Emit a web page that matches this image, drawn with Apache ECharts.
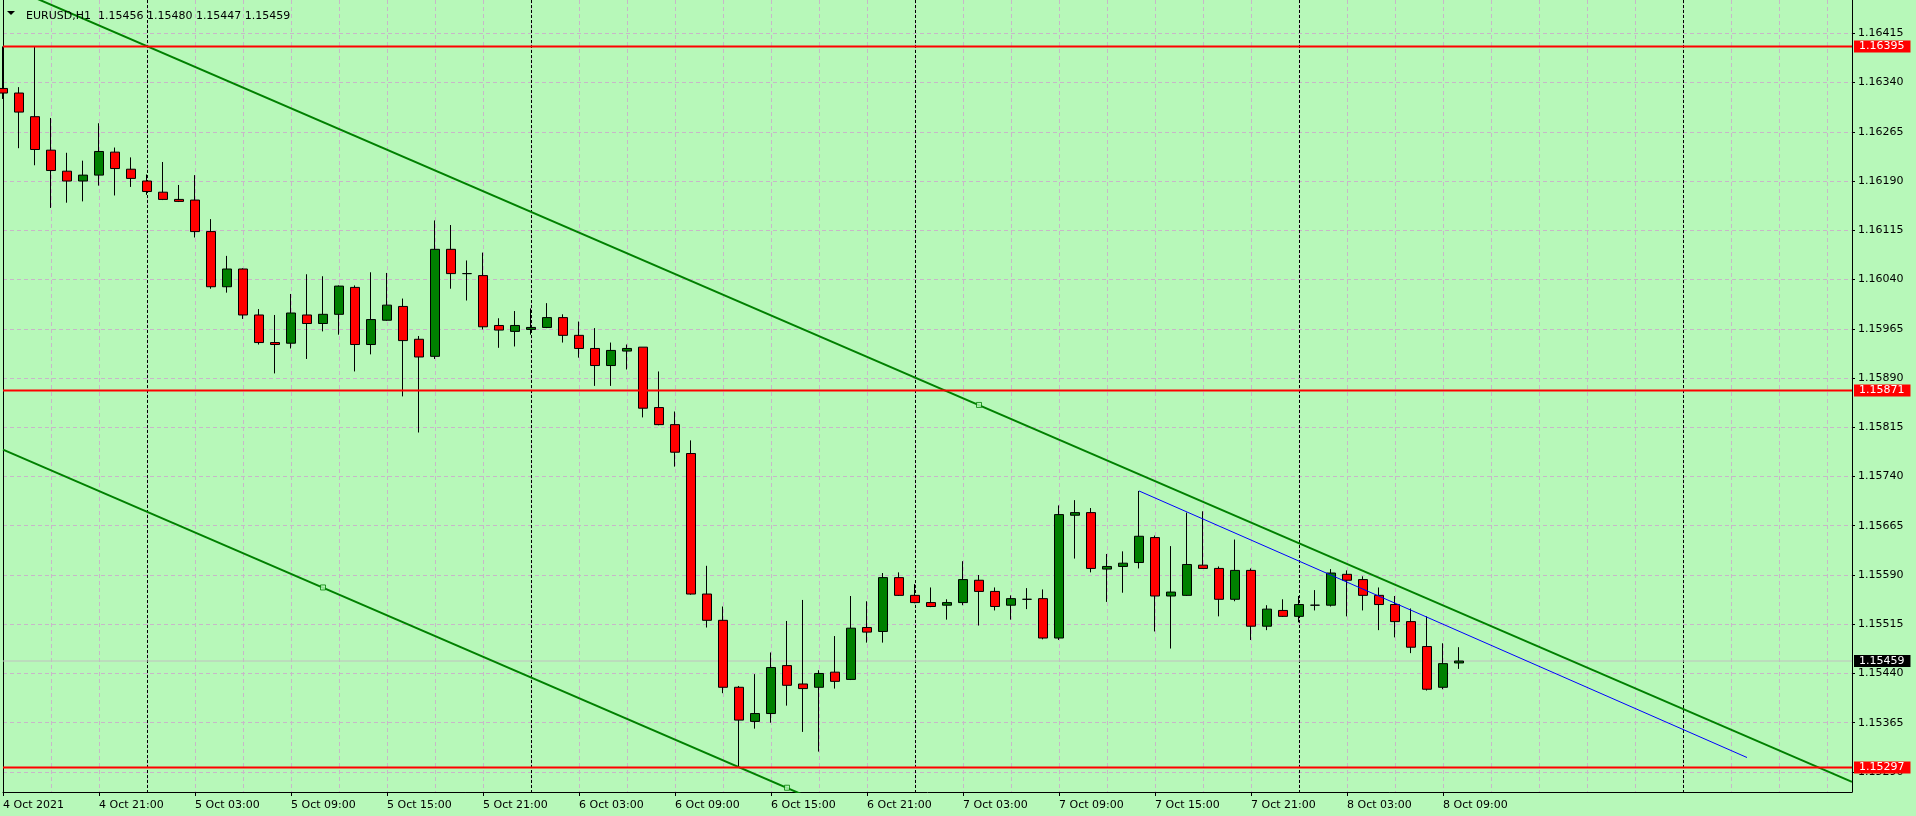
<!DOCTYPE html>
<html>
<head>
<meta charset="utf-8">
<script src="https://cdn.jsdelivr.net/npm/echarts@6/dist/echarts.min.js"></script>
<style>
html,body{margin:0;padding:0;background:#b7f8b9;}
#c{width:1916px;height:816px;}
</style>
</head>
<body>
<div id="c"></div>
<script>
// ---- data ----
const symbolTitle = 'EURUSD,H1  1.15456 1.15480 1.15447 1.15459';
const xTickLabels = ['4 Oct 2021','4 Oct 21:00','5 Oct 03:00','5 Oct 09:00','5 Oct 15:00','5 Oct 21:00',
  '6 Oct 03:00','6 Oct 09:00','6 Oct 15:00','6 Oct 21:00','7 Oct 03:00','7 Oct 09:00','7 Oct 15:00',
  '7 Oct 21:00','8 Oct 03:00','8 Oct 09:00'];
const xTickStep = 6;             // bars between time labels
const gridStep = 3;              // bars between vertical grid lines
const daySeparators = [9, 33, 57, 81, 105];   // bar index of each midnight
const yTickValues = [1.15290,1.15365,1.15440,1.15515,1.15590,1.15665,1.15740,1.15815,
  1.15890,1.15965,1.16040,1.16115,1.16190,1.16265,1.16340,1.16415];

const opens = [1.16331,1.16324,1.16288,1.16237,1.16205,1.16190,1.16199,1.16234,1.16208,1.16190,
  1.16173,1.16162,1.16161,1.16113,1.16029,1.16056,1.15986,1.15944,1.15943,1.15986,
  1.15973,1.15987,1.16028,1.15941,1.15978,1.15999,1.15949,1.15923,1.16086,1.16049,
  1.16046,1.15970,1.15961,1.15964,1.15967,1.15982,1.15955,1.15935,1.15909,1.15931,
  1.15937,1.15845,1.15819,1.15775,1.15561,1.15521,1.15419,1.15367,1.15379,1.15452,
  1.15424,1.15419,1.15442,1.15431,1.15510,1.15504,1.15586,1.15559,1.15548,1.15544,
  1.15548,1.15582,1.15565,1.15544,1.15553,1.15554,1.15494,1.15681,1.15685,1.15599,
  1.15603,1.15609,1.15647,1.15558,1.15559,1.15605,1.15600,1.15553,1.15597,1.15512,
  1.15536,1.15527,1.15544,1.15544,1.15591,1.15583,1.15559,1.15545,1.15519,1.15481,
  1.15419,1.15456];
const highs = [1.16395,1.16333,1.16395,1.16286,1.16233,1.16221,1.16278,1.16241,1.16226,1.16200,
  1.16219,1.16184,1.16199,1.16132,1.16076,1.16057,1.15995,1.15986,1.16018,1.16048,
  1.16045,1.16031,1.16031,1.16051,1.16050,1.16011,1.15954,1.16130,1.16123,1.16069,
  1.16081,1.15981,1.15992,1.15996,1.16004,1.15987,1.15976,1.15966,1.15944,1.15941,
  1.15937,1.15900,1.15839,1.15795,1.15604,1.15542,1.15421,1.15439,1.15472,1.15520,
  1.15552,1.15445,1.15497,1.15558,1.15550,1.15593,1.15594,1.15576,1.15571,1.15553,
  1.15611,1.15590,1.15571,1.15559,1.15570,1.15568,1.15696,1.15704,1.15692,1.15622,
  1.15626,1.15718,1.15650,1.15634,1.15685,1.15687,1.15603,1.15644,1.15600,1.15544,
  1.15553,1.15558,1.15567,1.15599,1.15597,1.15588,1.15571,1.15558,1.15539,1.15527,
  1.15486,1.15480];
const lows = [1.16315,1.16240,1.16214,1.16149,1.16157,1.16159,1.16183,1.16168,1.16181,1.16169,
  1.16161,1.16158,1.16104,1.16026,1.16020,1.15980,1.15941,1.15897,1.15935,1.15919,
  1.15961,1.15956,1.15900,1.15926,1.15977,1.15862,1.15807,1.15919,1.16026,1.16008,
  1.15964,1.15936,1.15938,1.15956,1.15966,1.15944,1.15921,1.15878,1.15878,1.15903,
  1.15830,1.15818,1.15755,1.15560,1.15510,1.15410,1.15297,1.15356,1.15365,1.15391,
  1.15351,1.15321,1.15417,1.15430,1.15487,1.15487,1.15558,1.15547,1.15541,1.15522,
  1.15544,1.15513,1.15536,1.15522,1.15538,1.15492,1.15491,1.15615,1.15594,1.15549,
  1.15563,1.15600,1.15504,1.15478,1.15558,1.15600,1.15527,1.15550,1.15491,1.15506,
  1.15526,1.15518,1.15536,1.15542,1.15527,1.15536,1.15506,1.15495,1.15471,1.15414,
  1.15416,1.15447];
const closes = [1.16324,1.16295,1.16238,1.16206,1.16190,1.16199,1.16235,1.16209,1.16194,1.16174,
  1.16162,1.16159,1.16113,1.16029,1.16056,1.15986,1.15944,1.15941,1.15989,1.15973,
  1.15987,1.16030,1.15941,1.15979,1.16001,1.15947,1.15922,1.16086,1.16049,1.16049,
  1.15968,1.15963,1.15970,1.15967,1.15982,1.15955,1.15935,1.15909,1.15932,1.15935,
  1.15844,1.15819,1.15777,1.15561,1.15521,1.15419,1.15369,1.15379,1.15449,1.15422,
  1.15417,1.15440,1.15428,1.15509,1.15503,1.15586,1.15559,1.15548,1.15542,1.15548,
  1.15583,1.15565,1.15542,1.15554,1.15553,1.15494,1.15682,1.15685,1.15600,1.15603,
  1.15608,1.15649,1.15558,1.15564,1.15606,1.15600,1.15553,1.15597,1.15512,1.15538,
  1.15527,1.15545,1.15544,1.15593,1.15582,1.15559,1.15545,1.15519,1.15480,1.15416,
  1.15455,1.15459];

const levelLines = [1.16395, 1.15871, 1.15297];
const bidPrice = 1.15459;
const channelUpper = [[0, 1.16490], [115.5625, 1.15275]];
const channelLower = [[0, 1.15781], [60, 1.15150]];
const channelAnchors = [[61, 1.15849], [20, 1.15571], [49, 1.15266]];
const blueTrend = [[71, 1.15718], [109, 1.15312]];

// ---- view ----
const X_MAX = 115.5625, Y_MIN = 1.152595, Y_MAX = 1.164657;
const FONT = 'DejaVu Sans';
const BG = '#b7f8b9';
const xTickIdx = xTickLabels.map((_, k) => k * xTickStep);
const gridIdx = [];
for (let v = 0; v <= X_MAX; v += gridStep) gridIdx.push(v);
const bars = opens.map((o, i) => [i, o, closes[i], lows[i], highs[i]]);
const gridDash = {color: '#c8b6c8', width: 1, type: [4, 3]};

function priceLine(name, v, color, width, boxColor, z) {
  return {
    type: 'line', name: name, data: [[0, v], [X_MAX, v]], symbol: 'none', showSymbol: false,
    silent: true, clip: false, z: z,
    lineStyle: {color: color, width: width, type: 'solid'},
    endLabel: {show: true, distance: 2, color: '#fff', backgroundColor: boxColor,
      padding: [1, 6, 0, 5], fontSize: 11, lineHeight: 11, fontFamily: FONT,
      formatter: () => v.toFixed(5)}
  };
}

const chart = echarts.init(document.getElementById('c'), null, {renderer: 'canvas', width: 1916, height: 816});
chart.setOption({
  animation: false,
  backgroundColor: BG,
  textStyle: {fontFamily: FONT},
  title: {text: symbolTitle, left: 21, top: 6,
    textStyle: {fontFamily: FONT, fontSize: 11, fontWeight: 'normal', color: '#000'}},
  graphic: [{type: 'polygon', shape: {points: [[7, 11], [15, 11], [11, 15]]}, style: {fill: '#000'}, silent: true}],
  grid: {left: 3, right: 64, top: 0, bottom: 24, show: false, containLabel: false, outerBoundsMode: 'none'},
  xAxis: [
    {type: 'value', min: 0, max: X_MAX, position: 'bottom',
      axisLine: {show: true, onZero: false, lineStyle: {color: '#000', width: 1}},
      axisTick: {show: true, length: 4, customValues: xTickIdx, lineStyle: {color: '#000'}},
      axisLabel: {show: true, customValues: xTickIdx, margin: 8, align: 'left', color: '#000',
        fontSize: 11, fontFamily: FONT,
        formatter: v => xTickLabels[Math.round(v / xTickStep)] || ''},
      splitLine: {show: false}},
    {type: 'value', min: 0, max: X_MAX, position: 'top',
      axisLine: {show: false, onZero: false}, axisTick: {show: false, customValues: gridIdx},
      axisLabel: {show: false}, splitLine: {show: true, lineStyle: gridDash}},
    {type: 'value', min: 0, max: X_MAX, position: 'bottom',
      axisLine: {show: false, onZero: false}, axisTick: {show: false, customValues: daySeparators},
      axisLabel: {show: false}, splitLine: {show: true, lineStyle: {color: '#000', width: 1, type: [3, 2]}}}
  ],
  yAxis: [
    {type: 'value', position: 'right', min: Y_MIN, max: Y_MAX,
      axisLine: {show: true, onZero: false, lineStyle: {color: '#000', width: 1}},
      axisTick: {show: true, length: 3, customValues: yTickValues, lineStyle: {color: '#000'}},
      axisLabel: {show: true, customValues: yTickValues, margin: 6, align: 'left', color: '#000',
        fontSize: 11, fontFamily: FONT, formatter: v => Number(v).toFixed(5)},
      splitLine: {show: true, lineStyle: gridDash}},
    {type: 'value', position: 'left', min: Y_MIN, max: Y_MAX,
      axisLine: {show: true, onZero: false, lineStyle: {color: '#000', width: 1}},
      axisTick: {show: false}, axisLabel: {show: false}, splitLine: {show: false}}
  ],
  series: [
    priceLine('bid', bidPrice, '#c0c0c0', 1, '#000000', 1),
    {type: 'candlestick', name: 'EURUSD', xAxisIndex: 0, yAxisIndex: 0, data: bars, barWidth: 9, z: 2,
      itemStyle: {color: '#008000', color0: '#ff0000', borderColor: '#000', borderColor0: '#000', borderWidth: 1}},
    {type: 'line', name: 'channelUpper', data: channelUpper, showSymbol: false, symbol: 'none', z: 3, silent: true,
      lineStyle: {color: '#008000', width: 2}},
    {type: 'line', name: 'channelLower', data: channelLower, showSymbol: false, symbol: 'none', z: 3, silent: true,
      lineStyle: {color: '#008000', width: 2}},
    {type: 'line', name: 'trend', data: blueTrend, showSymbol: false, symbol: 'none', z: 3, silent: true,
      lineStyle: {color: '#0000ff', width: 1}},
    {type: 'scatter', name: 'anchors', data: channelAnchors, symbol: 'rect', symbolSize: 5, z: 4, silent: true,
      itemStyle: {color: BG, borderColor: '#008000', borderWidth: 1}}
  ].concat(levelLines.map((v, k) => priceLine('level' + k, v, '#ff0000', 2, '#ff0000', 5)))
});
</script>
</body>
</html>
